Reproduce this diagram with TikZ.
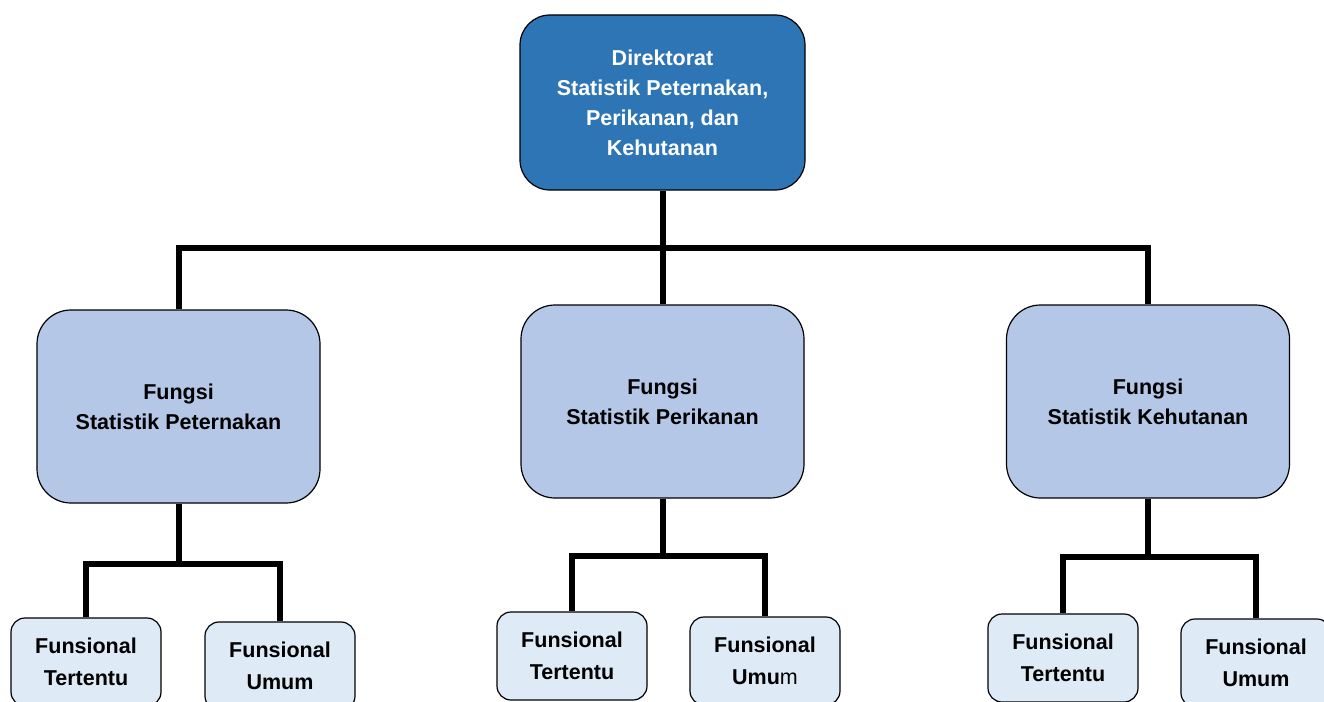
\documentclass[tikz,border=0pt]{standalone}
\usepackage{fontspec}
\setmainfont{Liberation Sans}
\usetikzlibrary{positioning}
\definecolor{dirblue}{HTML}{2E75B6}
\definecolor{unitblue}{HTML}{B4C7E7}
\definecolor{staffblue}{HTML}{DEEBF7}

\begin{document}
\begin{tikzpicture}[x=1pt,y=-1pt,
  box/.style={draw=black,line width=1.2pt,align=center,inner sep=0pt,
    font=\fontsize{21.5}{30}\selectfont\bfseries},
  head node/.style={box,fill=dirblue,text=white,rounded corners=30pt,
    minimum width=285pt,minimum height=175pt},
  unit node/.style={box,fill=unitblue,rounded corners=34pt,
    minimum width=283pt,minimum height=193pt},
  staff node/.style={box,fill=staffblue,rounded corners=14pt,
    minimum width=150pt,minimum height=88pt,
    font=\fontsize{21.5}{31.5}\selectfont\bfseries},
  link/.style={line width=6pt}]
   \clip (0,0) rectangle (1324,701);
   \node[head node] (dir)    at (662.5,102.5) {Direktorat\\Statistik Peternakan,\\Perikanan, dan\\Kehutanan};
   \node[unit node] (ternak) at (178.5,406.5) {Fungsi\\Statistik Peternakan};
   \node[unit node] (ikan)   at (662.5,401.5) {Fungsi\\Statistik Perikanan};
   \node[unit node] (hutan)  at (1148,401.5)  {Fungsi\\Statistik Kehutanan};
   \node[staff node] (t_ft)  at (86,662)   {Funsional\\Tertentu};
   \node[staff node] (t_fu)  at (280,666)  {Funsional\\Umum};
   \node[staff node] (i_ft)  at (572,656)  {Funsional\\Tertentu};
   \node[staff node] (i_fu)  at (765,661)  {Funsional\\Umu{\mdseries m}};
   \node[staff node] (h_ft)  at (1063,658) {Funsional\\Tertentu};
   \node[staff node] (h_fu)  at (1256,663) {Funsional\\Umum};
   % connectors
   \coordinate (bar) at (662.5,248);
   \draw[link] (dir.south) -- (ikan.north);
   \draw[link] (ternak.north) |- (bar) -| (hutan.north);
   \draw[link] (ternak.south) -- ++(0,60) coordinate (t_bar);
   \draw[link] (t_ft.north) |- (t_bar) -| (t_fu.north);
   \draw[link] (ikan.south) -- ++(0,57) coordinate (i_bar);
   \draw[link] (i_ft.north) |- (i_bar) -| (i_fu.north);
   \draw[link] (hutan.south) -- ++(0,58) coordinate (h_bar);
   \draw[link] (h_ft.north) |- (h_bar) -| (h_fu.north);
\end{tikzpicture}
\end{document}
